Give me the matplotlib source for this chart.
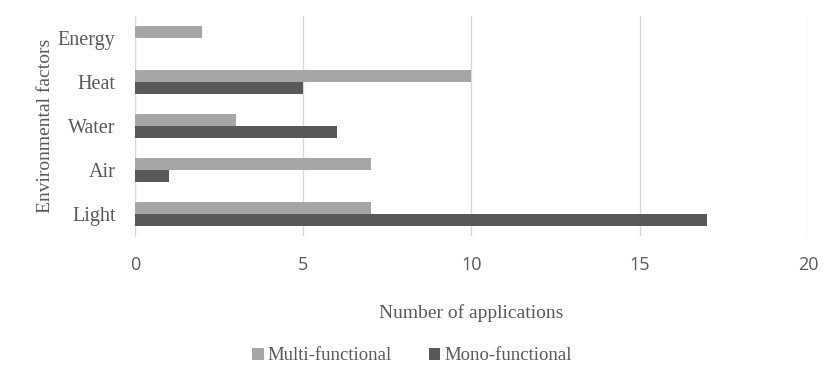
import numpy as np
import matplotlib.pyplot as plt

factors = ["Light", "Air", "Water", "Heat", "Energy"]
multi = [7, 7, 3, 10, 2]
mono = [17, 1, 6, 5, 0]

serif = ["Liberation Serif", "DejaVu Serif"]

fig = plt.figure(figsize=(8.24, 3.70), dpi=100)
ax = fig.add_axes([0.1638, 0.362, 0.8168, 0.595])

y = np.arange(len(factors))
h = 0.27
ax.barh(y + h / 2, multi, height=h, color="#a6a6a6", label="Multi-functional", zorder=3)
ax.barh(y - h / 2, mono, height=h, color="#595959", label="Mono-functional", zorder=3)

ax.set_xlim(0, 20)
ax.set_ylim(-0.5, 4.5)
ax.set_xticks([0, 5, 10, 15, 20])
ax.set_yticks(y)
ax.set_yticklabels(factors, family=serif, fontsize=14.5, color="#595959")
for lab in ax.get_xticklabels():
    lab.set_family(["Open Sans", "DejaVu Sans"])
    lab.set_fontsize(13)
    lab.set_color("#595959")
ax.tick_params(axis="both", length=0)
ax.tick_params(axis="x", pad=14)
ax.tick_params(axis="y", pad=14)

ax.grid(axis="x", color="#d9d9d9", linewidth=1, zorder=0)
for s in ["top", "right", "bottom"]:
    ax.spines[s].set_visible(False)
ax.spines["left"].set_color("#d9d9d9")

ax.set_xlabel("Number of applications", family=serif, fontsize=14, color="#595959", labelpad=22)
ax.set_ylabel("Environmental factors", family=serif, fontsize=14, color="#595959", labelpad=3)

leg = fig.legend(loc="center", bbox_to_anchor=(0.5, 0.038), ncol=2, frameon=False,
                 prop={"family": serif, "size": 13.5}, handlelength=0.6, handleheight=0.6,
                 columnspacing=2.0, handletextpad=0.2)
for t in leg.get_texts():
    t.set_color("#595959")

fig.savefig("out.png", dpi=100, facecolor="white")
